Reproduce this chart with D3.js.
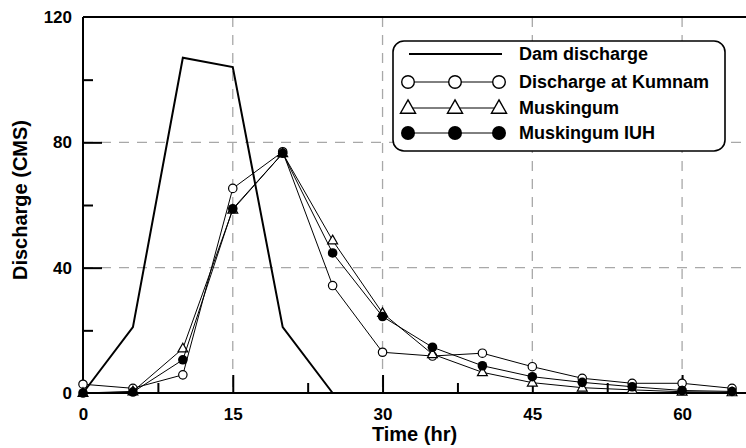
<!DOCTYPE html>
<html><head><meta charset="utf-8">
<script src="https://cdn.jsdelivr.net/npm/d3@7/dist/d3.min.js"></script>
<style>
html,body{margin:0;padding:0;background:#fff;}
svg{display:block;font-family:"Liberation Sans",Arial,sans-serif;font-weight:bold;}
</style></head>
<body><svg id="chart" width="746" height="448"></svg>
<script>
const time = [0,5,10,15,20,25,30,35,40,45,50,55,60,65];
const damTime = [0,5,10,15,20,25];
const damDischarge = [0,21,107,104,21,0];
const kumnam = [2.8,1.5,5.8,65.3,77,34.3,13.0,11.8,12.7,8.4,4.7,3.1,3.1,1.5];
const muskingum = [0,0.5,14.2,58.5,76.5,48.7,25.5,12.4,6.6,3.3,1.7,1.0,0.4,0.2];
const muskingumIUH = [0,0.3,10.6,58.8,76.5,44.7,24.4,14.6,8.7,5.2,3.4,2.0,0.8,0.5];
const xMajorTicks = [0,15,30,45,60];
const xMinorTicks = [7.5,22.5,37.5,52.5];
const yMajorTicks = [0,40,80,120];
const yMinorTicks = [20,60,100];
const legendLabels = ["Dam discharge","Discharge at Kumnam","Muskingum","Muskingum IUH"];

const svg = d3.select("#chart");
const L=83, R=746, T=17, B=393;
const x = d3.scaleLinear().domain([0,66.4]).range([L,R]);
const y = d3.scaleLinear().domain([0,120]).range([B,T]);

// gridlines
const grid = svg.append("g").attr("stroke","#a8a8a8").attr("stroke-width",1.3).attr("stroke-dasharray","10,8");
grid.selectAll(".gx").data(xMajorTicks.filter(d=>d>0)).join("line")
  .attr("x1",d=>x(d)).attr("x2",d=>x(d)).attr("y1",T).attr("y2",B);
grid.selectAll(".gy").data(yMajorTicks.filter(d=>d>0&&d<120)).join("line")
  .attr("y1",d=>y(d)).attr("y2",d=>y(d)).attr("x1",L).attr("x2",R);

// axes
const xAxis = svg.append("g").attr("transform",`translate(0,${B})`)
  .call(d3.axisBottom(x).tickValues(xMajorTicks).tickSize(-18).tickPadding(15).tickFormat(d3.format("d")));
const xMinor = svg.append("g").attr("transform",`translate(0,${B})`)
  .call(d3.axisBottom(x).tickValues(xMinorTicks).tickSize(-10).tickFormat(""));
const yAxis = svg.append("g").attr("transform",`translate(${L},0)`)
  .call(d3.axisLeft(y).tickValues(yMajorTicks).tickSize(-19).tickPadding(11).tickFormat(d3.format("d")));
const yMinor = svg.append("g").attr("transform",`translate(${L},0)`)
  .call(d3.axisLeft(y).tickValues(yMinorTicks).tickSize(-10).tickFormat(""));
[xAxis,xMinor,yAxis,yMinor].forEach(g=>{
  g.select(".domain").remove();
  g.selectAll(".tick line").attr("stroke","#000").attr("stroke-width",2);
  g.selectAll(".tick text").attr("font-size",17).attr("font-weight","bold").attr("fill","#000")
    .attr("font-family",'"Liberation Sans",Arial,sans-serif');
});
xAxis.selectAll(".tick").filter(d=>d===0).select("line").remove();
yAxis.selectAll(".tick").filter(d=>d===0||d===120).select("line").remove();

// frame lines (left, bottom, top)
svg.append("line").attr("x1",L).attr("x2",L).attr("y1",T).attr("y2",B).attr("stroke","#000").attr("stroke-width",2);
svg.append("line").attr("x1",L).attr("x2",R).attr("y1",B).attr("y2",B).attr("stroke","#000").attr("stroke-width",2);
svg.append("line").attr("x1",L).attr("x2",R).attr("y1",T).attr("y2",T).attr("stroke","#000").attr("stroke-width",2);

// series
const line = d3.line().x(d=>x(d[0])).y(d=>y(d[1]));
const zip = (a,b)=>a.map((v,i)=>[v,b[i]]);
const triPath = s => `M0,${-s*0.62}L${s*0.58},${s*0.4}L${-s*0.58},${s*0.4}Z`;

function drawSeries(vals, kind){
  const data = zip(time, vals);
  svg.append("path").datum(data).attr("d",line).attr("fill","none").attr("stroke","#000").attr("stroke-width",1);
  const g = svg.append("g");
  if(kind==="open"){
    g.selectAll("circle").data(data).join("circle").attr("cx",d=>x(d[0])).attr("cy",d=>y(d[1]))
      .attr("r",4.2).attr("fill","#fff").attr("stroke","#000").attr("stroke-width",1.2);
  } else if(kind==="tri"){
    g.selectAll("path").data(data).join("path").attr("transform",d=>`translate(${x(d[0])},${y(d[1])})`)
      .attr("d",triPath(8.5)).attr("fill","#fff").attr("stroke","#000").attr("stroke-width",1.2);
  } else {
    g.selectAll("circle").data(data).join("circle").attr("cx",d=>x(d[0])).attr("cy",d=>y(d[1]))
      .attr("r",4.8).attr("fill","#000");
  }
}
drawSeries(kumnam,"open");
drawSeries(muskingum,"tri");
drawSeries(muskingumIUH,"filled");
svg.append("path").datum(zip(damTime,damDischarge)).attr("d",line).attr("fill","none")
  .attr("stroke","#000").attr("stroke-width",2);

// axis titles
svg.append("text").attr("x",(L+R)/2).attr("y",441).attr("text-anchor","middle").attr("font-size",20).text("Time (hr)");
svg.append("text").attr("transform",`translate(27,${(T+B)/2-5}) rotate(-90)`).attr("text-anchor","middle")
  .attr("font-size",20).text("Discharge (CMS)");

// legend
const lg = svg.append("g");
lg.append("rect").attr("x",393).attr("y",41).attr("width",332).attr("height",110).attr("rx",11)
  .attr("fill","#fff").attr("stroke","#000").attr("stroke-width",1.6);
const rowY = [54,82,108,133];
const mk = [408,455,499];
legendLabels.forEach((lab,i)=>{
  const yy = rowY[i];
  if(i===0){
    lg.append("line").attr("x1",409).attr("x2",502).attr("y1",yy).attr("y2",yy).attr("stroke","#000").attr("stroke-width",2);
  } else {
    lg.append("line").attr("x1",408).attr("x2",499).attr("y1",yy).attr("y2",yy).attr("stroke","#000").attr("stroke-width",1);
    mk.forEach(mx=>{
      if(i===1) lg.append("circle").attr("cx",mx).attr("cy",yy).attr("r",6.3).attr("fill","#fff").attr("stroke","#000").attr("stroke-width",1.4);
      else if(i===2) lg.append("path").attr("transform",`translate(${mx},${yy})`).attr("d",triPath(13)).attr("fill","#fff").attr("stroke","#000").attr("stroke-width",1.4);
      else lg.append("circle").attr("cx",mx).attr("cy",yy).attr("r",7).attr("fill","#000");
    });
  }
  lg.append("text").attr("x",519).attr("y",yy).attr("dy","0.36em").attr("font-size",18).text(lab);
});
</script></body></html>
